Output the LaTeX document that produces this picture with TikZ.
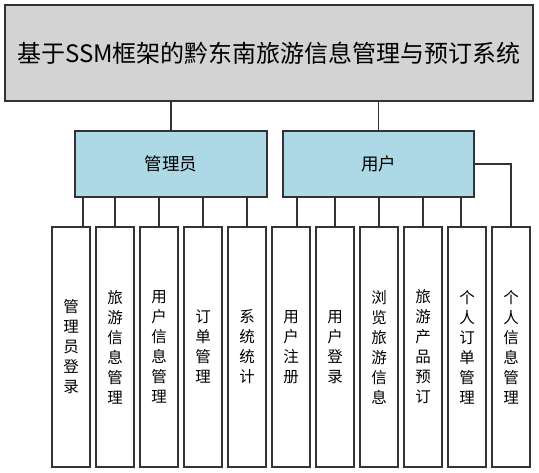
\documentclass[tikz,border=0pt]{standalone}
\usepackage{fontspec}
\newfontfamily\cjk{Noto Sans CJK SC}
\definecolor{topgray}{HTML}{D3D3D3}
\definecolor{midblue}{HTML}{ADD8E6}
\definecolor{edge}{HTML}{333333}
\begin{document}
\begin{tikzpicture}[x=1pt,y=-1pt,
  box/.style={draw=edge,line width=1.2pt,rectangle,inner sep=0pt},
  topbox/.style={box,fill=topgray,minimum width=528pt,minimum height=96pt,font=\cjk\fontsize{24}{28}\selectfont},
  midbox/.style={box,fill=midblue,minimum width=192pt,minimum height=66pt,font=\cjk\fontsize{17.5}{20}\selectfont},
  leaf/.style={box,fill=white,minimum width=38pt,minimum height=240pt,align=center,font=\cjk\fontsize{15.5}{20}\selectfont},
  link/.style={draw=edge,line width=1.2pt}]
\useasboundingbox (0,0) rectangle (539,473);
\node[topbox] (top) at (269,53) {基于SSM框架的黔东南旅游信息管理与预订系统};
\node[midbox] (admin) at (171,164) {管理员};
\node[midbox,minimum width=191pt] (user) at (378.5,164) {用户};
\node[leaf] (l1) at (71,347) {管\\理\\员\\登\\录};
\node[leaf] (l2) at (115,347) {旅\\游\\信\\息\\管\\理};
\node[leaf] (l3) at (159,347) {用\\户\\信\\息\\管\\理};
\node[leaf] (l4) at (203,347) {订\\单\\管\\理};
\node[leaf] (l5) at (247,347) {系\\统\\统\\计};
\node[leaf] (l6) at (291,347) {用\\户\\注\\册};
\node[leaf] (l7) at (335,347) {用\\户\\登\\录};
\node[leaf] (l8) at (379,347) {浏\\览\\旅\\游\\信\\息};
\node[leaf] (l9) at (423,347) {旅\\游\\产\\品\\预\\订};
\node[leaf] (l10) at (467,347) {个\\人\\订\\单\\管\\理};
\node[leaf] (l11) at (511,347) {个\\人\\信\\息\\管\\理};
% top connectors
\path[link] (admin.north) -- (admin.north |- top.south);
\path[link] (user.north) -- (user.north |- top.south);
% admin connectors
\path[link] ([xshift=12pt]l1.north) -- ([xshift=12pt]l1.north |- admin.south);
\foreach \n in {l2,l3,l4,l5}{
  \path[link] (\n.north) -- (\n.north |- admin.south);
}
% user connectors
\path[link] ([xshift=6pt]l6.north) -- ([xshift=6pt]l6.north |- user.south);
\path[link] (l7.north) -- (l7.north |- user.south);
\path[link] (l8.north) -- (l8.north |- user.south);
\path[link] (l9.north) -- (l9.north |- user.south);
\path[link] ([xshift=-6pt]l10.north) -- ([xshift=-6pt]l10.north |- user.south);
\path[link] (user.east) -| (l11.north);
\end{tikzpicture}
\end{document}
